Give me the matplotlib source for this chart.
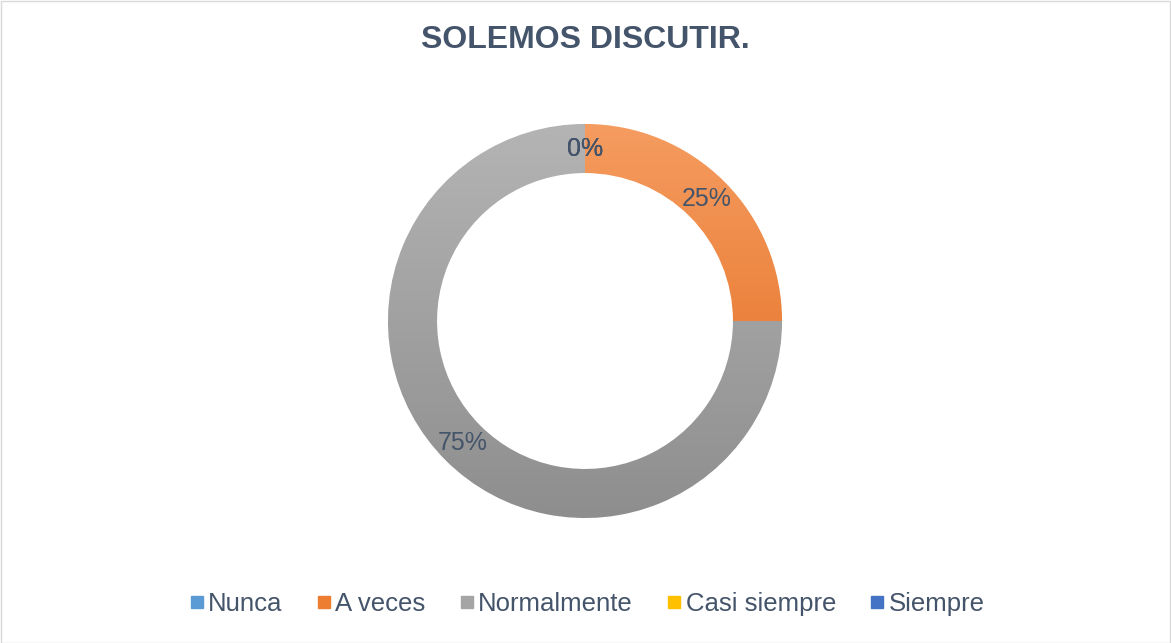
import numpy as np
import matplotlib.pyplot as plt
from matplotlib.lines import Line2D
from matplotlib.patches import Rectangle
from matplotlib.colors import LinearSegmentedColormap

categories = ["Nunca", "A veces", "Normalmente", "Casi siempre", "Siempre"]
values = [0, 25, 75, 0, 0]
colors = ["#5B9BD5", "#ED7D31", "#A5A5A5", "#FFC000", "#4472C4"]
# light (top) / dark (bottom) shades for the gradient fill
shades = [("#6FA9DC", "#4A8BC9"), ("#F59C60", "#E2691A"), ("#B4B4B4", "#8E8E8E"),
          ("#FFCC33", "#F0B400"), ("#5A85CF", "#3A64B5")]
title = "SOLEMOS DISCUTIR."
text_color = "#44546A"

W, H = 1171, 643
fig = plt.figure(figsize=(W / 100, H / 100), dpi=100)
fig.patches.append(Rectangle((0.5 / W, 0.5 / H), 1 - 1.5 / W, 1 - 1.5 / H,
                             transform=fig.transFigure, fill=False,
                             edgecolor="#D9D9D9", linewidth=1))

cx, cy, R = 585, 321, 197
ax = fig.add_axes([(cx - R) / W, (H - cy - R) / H, 2 * R / W, 2 * R / H])

ring = 1 - 148 / 197
wedges, _ = ax.pie(values, colors=colors, startangle=90, counterclock=False,
                   radius=1, wedgeprops=dict(width=ring, edgecolor="white", linewidth=0.6))

grad = np.linspace(0, 1, 256).reshape(-1, 1)
for w, (top, bot) in zip(wedges, shades):
    cmap = LinearSegmentedColormap.from_list("g", [top, bot])
    im = ax.imshow(grad, cmap=cmap, extent=(-1, 1, -1, 1), aspect="auto", zorder=w.get_zorder())
    im.set_clip_path(w)

total = sum(values)
start = 90.0
rmid = 1 - ring / 2
for v in values:
    span = 360.0 * v / total
    mid = np.deg2rad(start - span / 2)
    ax.text(rmid * np.cos(mid), rmid * np.sin(mid), "%d%%" % round(100 * v / total),
            ha="center", va="center", fontsize=18, color=text_color,
            family="Liberation Sans", zorder=10)
    start -= span

ax.set_xlim(-1, 1)
ax.set_ylim(-1, 1)
ax.axis("off")

fig.text(0.5, (H - 40) / H, title, ha="center", va="center", fontsize=23,
         fontweight="bold", color=text_color, family="Liberation Sans")

handles = [Line2D([], [], marker="s", linestyle="none", markersize=9,
                  markerfacecolor=c, markeredgecolor=c) for c in colors]
fig.legend(handles, categories, loc="center", bbox_to_anchor=(0.5, (H - 604) / H),
           ncol=5, frameon=False, handletextpad=0.05, columnspacing=1.2,
           handlelength=0.8, prop={"family": "Liberation Sans", "size": 18.5},
           labelcolor=text_color)

fig.savefig("out.png", dpi=100)
